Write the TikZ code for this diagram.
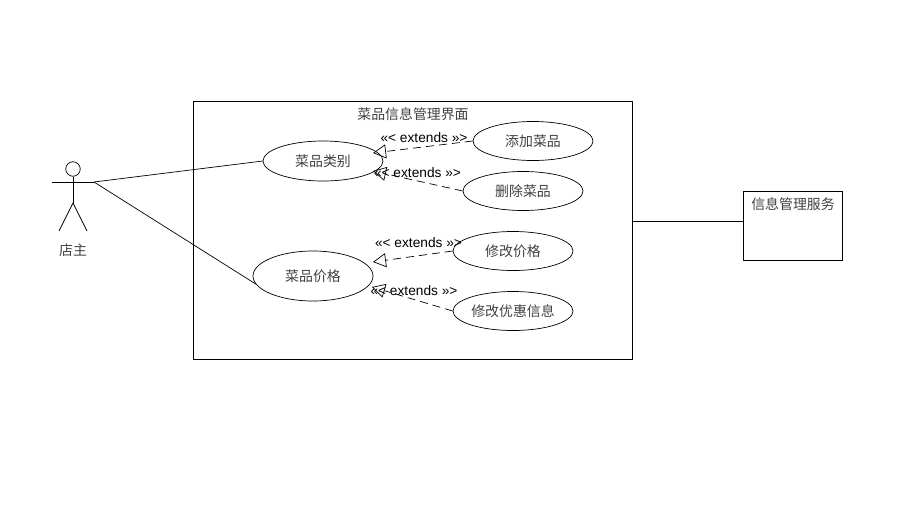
\documentclass[tikz,border=0pt]{standalone}
\usepackage{fontspec}
\setmainfont{Liberation Sans}
\newfontfamily\cjk{Noto Sans CJK SC}
\usetikzlibrary{
arrows.meta,
positioning,
shapes.geometric
}
\tikzset{
	>=latex,
	cjklabel/.style={inner sep=0pt,font=\cjk\fontsize{13.9}{16}\selectfont,text=black!75},
	usecase/.style={draw,ellipse,inner sep=0pt,minimum width=120pt,minimum height=39pt,cjklabel},
	extendsline/.style={dash pattern=on 8pt off 5pt,-{Triangle[open,length=13pt,width=14pt]}},
	extendslabel/.style={inner sep=0pt,font=\fontsize{13.7}{15}\selectfont}
}

\begin{document}
\begin{tikzpicture}[x=1pt,y=-1pt,line width=0.7pt]
	\useasboundingbox (0,0) rectangle (914,504);
	% system box and service box
	\node[draw,minimum width=439.5pt,minimum height=258.5pt,inner sep=0pt] (sys) at (412.8,230.3) {};
	\node[cjklabel] (systitle) at (413,114.5) {菜品信息管理界面};
	\node[draw,minimum width=99.5pt,minimum height=69.5pt,inner sep=0pt] (service) at (792.8,225.8) {};
	\node[cjklabel] (servicetitle) at (793,204) {信息管理服务};
	\draw (sys.east |- 0,221) coordinate (sysport) -- (service.west |- sysport);

	% actor
	\node[draw,circle,inner sep=0pt,minimum size=14.5pt] (head) at (73,169) {};
	\coordinate (hip) at (73,203);
	\coordinate (armleft) at (52,182);
	\coordinate (armright) at (94,182);
	\coordinate (footleft) at (59,231);
	\coordinate (footright) at (87,231);
	\node[cjklabel] (owner) at (73,250) {店主};
	\draw (head) -- (hip);
	\draw (armleft) -- (armright);
	\draw (footleft) -- (hip) -- (footright);

	% use cases
	\node[usecase,minimum height=40pt] (category) at (323,161) {菜品类别};
	\node[usecase,minimum height=50pt] (price) at (313,276) {菜品价格};
	\node[usecase] (adddish) at (533,141) {添加菜品};
	\node[usecase] (deldish) at (523,191) {删除菜品};
	\node[usecase] (modprice) at (513,251) {修改价格};
	\node[usecase] (moddiscount) at (513,311) {修改优惠信息};

	\draw (armright) -- (category.west);
	\draw (armright) -- (price.188);

	% arrow ends sit just inside the ellipses
	\coordinate (tipadd) at (373,153);
	\coordinate (tipdel) at (373,171);
	\coordinate (tipmod) at (373,262);
	\coordinate (tipdis) at (372,287);
	\draw[extendsline] (adddish.west) -- (tipadd);
	\draw[extendsline] (deldish.west) -- (tipdel);
	\draw[extendsline] (modprice.west) -- (tipmod);
	\draw[extendsline] (moddiscount.west) -- (tipdis);
	\node[extendslabel] (extadd) at (424,138) {«< extends »>};
	\node[extendslabel] (extdel) at (417.5,172.5) {«< extends »>};
	\node[extendslabel] (extmod) at (418.5,242.5) {«< extends »>};
	\node[extendslabel] (extdis) at (414,290.5) {«< extends »>};
\end{tikzpicture}
\end{document}
